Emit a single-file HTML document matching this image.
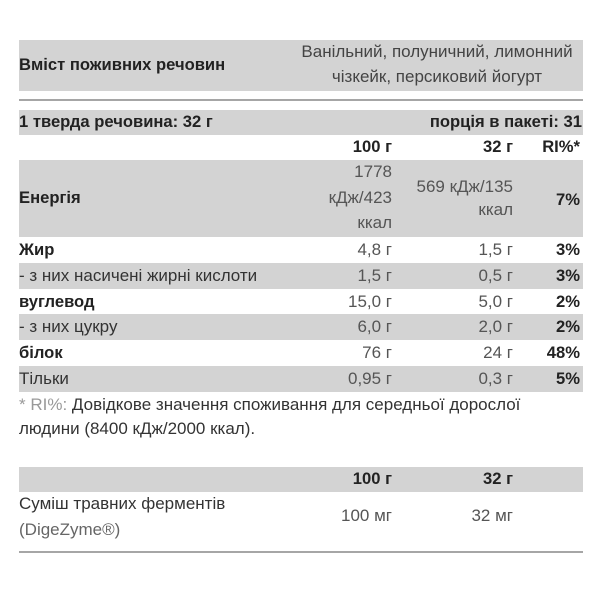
<!DOCTYPE html>
<html><head><meta charset="utf-8">
<style>
html,body{margin:0;padding:0;background:#fff;}
body{width:600px;height:600px;position:relative;overflow:hidden;font-family:"Liberation Sans","Noto Sans CJK SC",sans-serif;font-size:17px;color:#333;}
.band{position:absolute;left:19px;width:564px;background:#d3d3d3;}
.line{position:absolute;left:19px;width:564px;height:2px;background:#a6a6a6;}
.t{position:absolute;height:20px;line-height:20px;white-space:nowrap;}
.l{left:19px;}
.b{font-weight:bold;color:#222;font-size:16.6px;}
.c1{right:208px;text-align:right;color:#555;}
.c2{right:87px;text-align:right;color:#555;}
.c3{right:20px;text-align:right;}
</style></head><body>
<div class="band" style="top:40px;height:51px"></div>
<div class="line" style="top:99px"></div>
<div class="band" style="top:110px;height:25px"></div>
<div class="band" style="top:160px;height:77px"></div>
<div class="band" style="top:263px;height:26px"></div>
<div class="band" style="top:314px;height:26px"></div>
<div class="band" style="top:366px;height:26px"></div>
<div class="band" style="top:467px;height:25px"></div>
<div class="line" style="top:551px"></div>

<div class="t l b" style="top:55px">Вміст поживних речовин</div>
<div class="t" style="top:42px;left:291px;width:292px;text-align:center;color:#444">Ванільний, полуничний, лимонний</div>
<div class="t" style="top:67px;left:291px;width:292px;text-align:center;color:#444">чізкейк, персиковий йогурт</div>

<div class="t l b" style="top:112px">1 тверда речовина: 32 г</div>
<div class="t b" style="top:112px;right:18px">порція в пакеті: 31</div>

<div class="t b c1" style="top:137px;color:#222">100 г</div>
<div class="t b c2" style="top:137px;color:#222">32 г</div>
<div class="t b c3" style="top:137px">RI%*</div>

<div class="t l b" style="top:188px">Енергія</div>
<div class="t c1" style="top:162px">1778</div>
<div class="t c1" style="top:188px">кДж/423</div>
<div class="t c1" style="top:213px">ккал</div>
<div class="t c2" style="top:177px">569 кДж/135</div>
<div class="t c2" style="top:200px">ккал</div>
<div class="t b c3" style="top:190px">7%</div>

<div class="t l b" style="top:240px">Жир</div>
<div class="t c1" style="top:240px">4,8 г</div>
<div class="t c2" style="top:240px">1,5 г</div>
<div class="t b c3" style="top:240px">3%</div>

<div class="t l" style="top:266px">- з них насичені жирні кислоти</div>
<div class="t c1" style="top:266px">1,5 г</div>
<div class="t c2" style="top:266px">0,5 г</div>
<div class="t b c3" style="top:266px">3%</div>

<div class="t l b" style="top:292px">вуглевод</div>
<div class="t c1" style="top:292px">15,0 г</div>
<div class="t c2" style="top:292px">5,0 г</div>
<div class="t b c3" style="top:292px">2%</div>

<div class="t l" style="top:317px">- з них цукру</div>
<div class="t c1" style="top:317px">6,0 г</div>
<div class="t c2" style="top:317px">2,0 г</div>
<div class="t b c3" style="top:317px">2%</div>

<div class="t l b" style="top:343px">білок</div>
<div class="t c1" style="top:343px">76 г</div>
<div class="t c2" style="top:343px">24 г</div>
<div class="t b c3" style="top:343px">48%</div>

<div class="t l" style="top:369px">Тільки</div>
<div class="t c1" style="top:369px">0,95 г</div>
<div class="t c2" style="top:369px">0,3 г</div>
<div class="t b c3" style="top:369px">5%</div>

<div class="t l" style="top:395px"><span style="color:#999">* RI%:</span> Довідкове значення споживання для середньої дорослої</div>
<div class="t l" style="top:419px">людини (8400 кДж/2000 ккал).</div>

<div class="t b c1" style="top:469px;color:#222">100 г</div>
<div class="t b c2" style="top:469px;color:#222">32 г</div>
<div class="t l" style="top:494px">Суміш травних ферментів</div>
<div class="t l" style="top:520px;color:#666">(DigeZyme®)</div>
<div class="t c1" style="top:506px">100 мг</div>
<div class="t c2" style="top:506px">32 мг</div>
</body></html>
